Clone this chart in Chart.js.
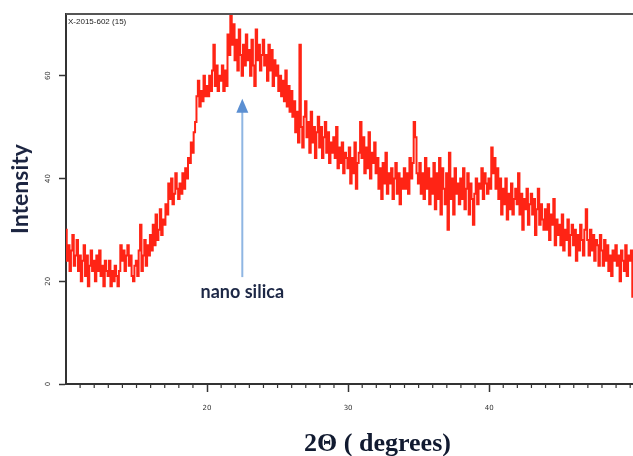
<!DOCTYPE html>
<html>
<head>
<meta charset="utf-8">
<script src="https://cdn.jsdelivr.net/npm/chart.js@4"></script>
<style>
  body { margin: 0; background: #fff; }
  canvas { display: block; }
</style>
</head>
<body>
<canvas id="xrdChart" width="633" height="456"></canvas>
<script>
// 2-theta scan, 0.1 degree steps starting at 10
const startAngle = 10;
const angleStep = 0.1;

// intensities, one row per degree
const int10s = [
  30, 24, 27, 22, 26, 29, 23, 25, 28, 22,
  25, 20, 24, 27, 21, 25, 19, 23, 26, 22,
  24, 20, 25, 22, 26, 21, 23, 19, 24, 22,
  21, 24, 19, 22, 20, 23, 21, 19, 22, 27,
  24, 26, 22, 25, 27, 23, 25, 21, 20, 23,
  24, 21, 26, 31, 22, 25, 28, 23, 27, 25,
  29, 26, 31, 27, 33, 28, 30, 34, 29, 32,
  31, 35, 33, 39, 36, 40, 35, 37, 41, 38,
  36, 39, 37, 41, 38, 42, 40, 44, 43, 47,
  45, 49, 51, 56, 59, 54, 57, 55, 60, 56
];
const int20s = [
  58, 56, 60, 57, 61, 66, 58, 62, 57, 60,
  59, 62, 57, 61, 58, 68, 64, 72, 66, 70,
  63, 67, 61, 69, 64, 60, 66, 62, 68, 63,
  65, 60, 67, 62, 58, 69, 63, 66, 61, 64,
  67, 62, 64, 59, 66, 61, 65, 58, 63, 60,
  62, 57, 60, 56, 59, 55, 61, 54, 58, 53,
  57, 52, 55, 49, 53, 47, 66, 50, 46, 52,
  55, 48, 51, 45, 53, 47, 50, 44, 49, 52,
  46, 50, 44, 48, 51, 45, 49, 43, 47, 45,
  48, 44, 50, 42, 46, 43, 47, 41, 45, 44
];
const int30s = [
  42, 46, 39, 44, 41, 47, 38, 43, 45, 51,
  44, 48, 41, 46, 42, 49, 40, 45, 43, 47,
  41, 44, 38, 42, 36, 43, 39, 45, 37, 41,
  39, 42, 36, 40, 43, 37, 41, 35, 40, 38,
  42, 38, 41, 37, 44, 40, 43, 51, 48, 41,
  39, 43, 37, 41, 36, 44, 38, 42, 35, 40,
  37, 43, 34, 41, 36, 44, 33, 42, 38, 35,
  41, 30, 45, 36, 40, 33, 42, 37, 39, 35,
  40, 36, 42, 34, 38, 41, 33, 39, 36, 31,
  37, 40, 35, 39, 38, 42, 36, 41, 39, 37
];
const int40s = [
  40, 38, 46, 41, 44, 38, 42, 36, 40, 33,
  38, 35, 40, 32, 37, 34, 39, 33, 36, 38,
  35, 41, 33, 37, 30, 36, 34, 38, 31, 35,
  37, 33, 36, 29, 34, 38, 31, 35, 32, 30,
  34, 30, 35, 28, 33, 31, 36, 27, 32, 29,
  31, 27, 33, 26, 30, 28, 32, 25, 29, 31,
  27, 30, 24, 29, 26, 31, 28, 25, 30, 34,
  28, 25, 30, 26, 29, 24, 28, 27, 23, 29,
  26, 23, 28, 24, 27, 22, 25, 21, 26, 24,
  27, 23, 25, 20, 26, 24, 22, 27, 21, 25
];
const int50s = [24, 26, 17];

const xMajorTicks = [20, 30, 40];
const xMinorTicks = [11, 12, 13, 14, 15, 16, 17, 18, 19, 21, 22, 23, 24, 25, 26, 27, 28, 29,
  31, 32, 33, 34, 35, 36, 37, 38, 39, 41, 42, 43, 44, 45, 46, 47, 48, 49, 50];
const yTicks = [0, 20, 40, 60];

const sampleLabel = "X-2015-602 (15)";
const peakLabel = "nano silica";
const peakAngle = 22.5;

const intensities = [...int10s, ...int20s, ...int30s, ...int40s, ...int50s];
const points = intensities.map((v, i) => ({
  x: +(startAngle + i * angleStep).toFixed(1),
  y: v,
}));

// frame top, minor ticks, rotated y labels, titles and the arrow
const overlay = {
  id: "overlay",
  afterDraw(chart) {
    const { ctx, chartArea: a, scales } = chart;
    const x = scales.x;
    const y = scales.y;
    ctx.save();

    ctx.strokeStyle = "#555";
    ctx.lineWidth = 2;
    ctx.beginPath();
    ctx.moveTo(a.left, a.top);
    ctx.lineTo(a.right, a.top);
    ctx.stroke();

    ctx.strokeStyle = "#333";
    ctx.lineWidth = 1.2;
    xMinorTicks.forEach(v => {
      const px = x.getPixelForValue(v);
      ctx.beginPath();
      ctx.moveTo(px, a.bottom + 1);
      ctx.lineTo(px, a.bottom + 4);
      ctx.stroke();
    });

    ctx.fillStyle = "#333";
    ctx.font = "7px 'DejaVu Sans'";
    ctx.textAlign = "center";
    ctx.textBaseline = "middle";
    yTicks.forEach(v => {
      ctx.save();
      ctx.translate(a.left - 18, y.getPixelForValue(v));
      ctx.rotate(-Math.PI / 2);
      ctx.fillText(String(v), 0, 0);
      ctx.restore();
    });

    ctx.textAlign = "left";
    ctx.textBaseline = "top";
    ctx.font = "8px 'Liberation Sans'";
    ctx.fillStyle = "#222";
    ctx.fillText(sampleLabel, a.left + 2, a.top + 4);

    // arrow pointing at the amorphous hump
    const ax = x.getPixelForValue(peakAngle);
    const tipY = y.getPixelForValue(55.5);
    const tailY = y.getPixelForValue(20.8);
    ctx.strokeStyle = "#8fb6e3";
    ctx.lineWidth = 2;
    ctx.beginPath();
    ctx.moveTo(ax, tailY);
    ctx.lineTo(ax, tipY + 12);
    ctx.stroke();
    ctx.fillStyle = "#5b8fd2";
    ctx.beginPath();
    ctx.moveTo(ax, tipY);
    ctx.lineTo(ax - 6, tipY + 14);
    ctx.lineTo(ax + 6, tipY + 14);
    ctx.closePath();
    ctx.fill();

    ctx.fillStyle = "#1d2846";
    ctx.font = "bold 18px Lato";
    ctx.textAlign = "center";
    ctx.textBaseline = "middle";
    ctx.fillText(peakLabel, ax, y.getPixelForValue(17.9));

    ctx.save();
    ctx.translate(21, (a.top + a.bottom) / 2 - 10);
    ctx.rotate(-Math.PI / 2);
    ctx.font = "bold 23px Lato";
    ctx.fillStyle = "#1c2541";
    ctx.fillText("Intensity", 0, 0);
    ctx.restore();

    ctx.font = "bold 26px 'Liberation Serif'";
    ctx.fillStyle = "#111a30";
    ctx.fillText("2\u0398 ( degrees)", (a.left + a.right) / 2 + 28, 444);

    ctx.restore();
  },
};

new Chart(document.getElementById("xrdChart"), {
  type: "line",
  data: {
    datasets: [
      {
        data: points,
        borderColor: "#ff2415",
        borderWidth: 2,
        pointRadius: 0,
        stepped: "middle",
        fill: false,
      },
    ],
  },
  options: {
    responsive: false,
    animation: false,
    layout: { padding: { top: 14, left: 0, right: 0, bottom: 0 } },
    plugins: {
      legend: { display: false },
      tooltip: { enabled: false },
    },
    scales: {
      x: {
        type: "linear",
        min: 10,
        max: 50.2,
        afterBuildTicks: scale => {
          scale.ticks = xMajorTicks.map(v => ({ value: v }));
        },
        afterFit: scale => {
          scale.height = 72;
        },
        border: { display: true, color: "#333", width: 2 },
        grid: {
          drawOnChartArea: false,
          drawTicks: true,
          tickLength: 8,
          tickColor: "#333",
          tickWidth: 1.5,
        },
        ticks: {
          color: "#333",
          font: { size: 7, family: "'DejaVu Sans'" },
          padding: 12,
          maxRotation: 0,
          minRotation: 0,
        },
      },
      y: {
        min: 0,
        max: 72,
        afterBuildTicks: scale => {
          scale.ticks = yTicks.map(v => ({ value: v }));
        },
        afterFit: scale => {
          scale.width = 66;
        },
        border: { display: true, color: "#333", width: 2 },
        grid: {
          drawOnChartArea: false,
          drawTicks: true,
          tickLength: 7,
          tickColor: "#333",
          tickWidth: 1.5,
        },
        ticks: { display: false },
      },
    },
  },
  plugins: [overlay],
});
</script>
</body>
</html>
